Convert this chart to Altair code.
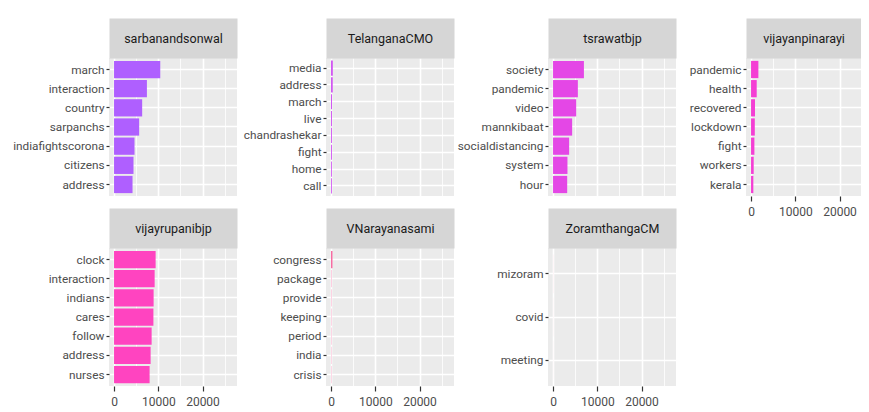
import altair as alt
import pandas as pd

# ---- data ----
users = ["sarbanandsonwal", "TelanganaCMO", "tsrawatbjp", "vijayanpinarayi",
         "vijayrupanibjp", "VNarayanasami", "ZoramthangaCM"]

sarbanandsonwal_words = ["march", "interaction", "country", "sarpanchs",
                         "indiafightscorona", "citizens", "address"]
sarbanandsonwal_counts = [10450, 7430, 6360, 5680, 4630, 4400, 4180]

telanganacmo_words = ["media", "address", "march", "live", "chandrashekar",
                      "fight", "home", "call"]
telanganacmo_counts = [400, 380, 220, 210, 200, 200, 190, 190]

tsrawatbjp_words = ["society", "pandemic", "video", "mannkibaat",
                    "socialdistancing", "system", "hour"]
tsrawatbjp_counts = [6980, 5610, 5230, 4320, 3640, 3260, 3200]

vijayanpinarayi_words = ["pandemic", "health", "recovered", "lockdown",
                         "fight", "workers", "kerala"]
vijayanpinarayi_counts = [1660, 1280, 900, 850, 760, 600, 520]

vijayrupanibjp_words = ["clock", "interaction", "indians", "cares",
                        "follow", "address", "nurses"]
vijayrupanibjp_counts = [9400, 9180, 8950, 8900, 8500, 8270, 8040]

vnarayanasami_words = ["congress", "package", "provide", "keeping",
                       "period", "india", "crisis"]
vnarayanasami_counts = [320, 70, 65, 60, 60, 55, 55]

zoramthangacm_words = ["mizoram", "covid", "meeting"]
zoramthangacm_counts = [12, 8, 6]

user_colors = ["#AF5FFF", "#D052F2", "#E447E6", "#F43FD4",
               "#FF44C0", "#F7679F", "#FF6C90"]

x_tick_values = [0, 5000, 10000, 15000, 20000, 25000]
x_domain_full = [-1140, 27800]
x_domain_last = [-1140, 24860]

FONT = "Roboto"
MAJOR = "datum.value % 10000 === 0"
PANEL_W = 128
PANEL_H = 138


def panel(user, words, counts, color, extent, show_x, width=PANEL_W, domain=None):
    domain = domain or x_domain_full
    df = pd.DataFrame({"word": words, "n": counts, "user": user})
    xs = alt.Scale(domain=domain, nice=False, zero=False)
    ys = alt.Scale(paddingInner=0.1, paddingOuter=0.15)
    y_axis = alt.Axis(title=None, domain=False, grid=True, gridColor="white",
                      gridWidth=1.6, ticks=True, tickColor="#333333", tickSize=3,
                      tickWidth=1.2, labelPadding=2, minExtent=extent,
                      maxExtent=extent, labelLimit=extent - 5,
                      labelFont=FONT, labelFontSize=11.8, labelColor="#4D4D4D")
    grid_width = {"condition": {"test": MAJOR, "value": 1.6}, "value": 0.8}
    if show_x:
        bottom_axis = alt.Axis(values=x_tick_values, title=None, domain=False,
                               grid=True, gridColor="white", gridWidth=grid_width,
                               ticks=True, tickColor="#333333", tickSize=5,
                               tickWidth=1.2,
                               tickOpacity={"condition": {"test": MAJOR, "value": 1}, "value": 0},
                               labelExpr=MAJOR + " ? datum.label : ''",
                               format="d", labelPadding=5, labelFont=FONT,
                               labelFontSize=12, labelColor="#4D4D4D",
                               labelFlush=False, labelOverlap=False)
    else:
        bottom_axis = alt.Axis(values=x_tick_values, title=None, domain=False,
                               grid=True, gridColor="white", gridWidth=grid_width,
                               ticks=False, labels=False)
    strip_axis = alt.Axis(orient="top", title=user, domain=True,
                          domainColor="#D6D6D6", domainWidth=40, offset=20,
                          ticks=False, labels=False, grid=False,
                          titleFont=FONT, titleFontSize=12.5, titleColor="#1A1A1A",
                          titleFontWeight="normal", titleBaseline="middle",
                          titleY=0, titlePadding=0, minExtent=20, maxExtent=20)
    y_enc = alt.Y("word:N", sort=words, scale=ys, axis=y_axis)
    bars = alt.Chart(df).mark_bar(color=color).encode(
        x=alt.X("n:Q", scale=xs, axis=bottom_axis), y=y_enc)
    strip = alt.Chart(df).mark_bar(opacity=0).encode(
        x=alt.X("n:Q", scale=xs, axis=strip_axis), y=y_enc)
    return alt.layer(bars, strip).resolve_axis(x="independent").properties(
        width=width, height=PANEL_H)


E1, E2, E3, E4 = 101, 89, 94, 70

col1 = alt.vconcat(
    panel(users[0], sarbanandsonwal_words, sarbanandsonwal_counts, user_colors[0], E1, False),
    panel(users[4], vijayrupanibjp_words, vijayrupanibjp_counts, user_colors[4], E1, True),
    spacing=12)
col2 = alt.vconcat(
    panel(users[1], telanganacmo_words, telanganacmo_counts, user_colors[1], E2, False),
    panel(users[5], vnarayanasami_words, vnarayanasami_counts, user_colors[5], E2, True),
    spacing=12)
col3 = alt.vconcat(
    panel(users[2], tsrawatbjp_words, tsrawatbjp_counts, user_colors[2], E3, False),
    panel(users[6], zoramthangacm_words, zoramthangacm_counts, user_colors[6], E3, True),
    spacing=12)
col4 = panel(users[3], vijayanpinarayi_words, vijayanpinarayi_counts, user_colors[3],
             E4, True, width=115, domain=x_domain_last)

chart = alt.hconcat(col1, col2, col3, col4, spacing=0).properties(
    padding={"left": 0, "top": 10, "right": 0, "bottom": 0},
    background="white",
).configure_view(
    fill="#EBEBEB", strokeWidth=0
)

chart.save("out.html", embed_options={"renderer": "svg", "actions": False})
